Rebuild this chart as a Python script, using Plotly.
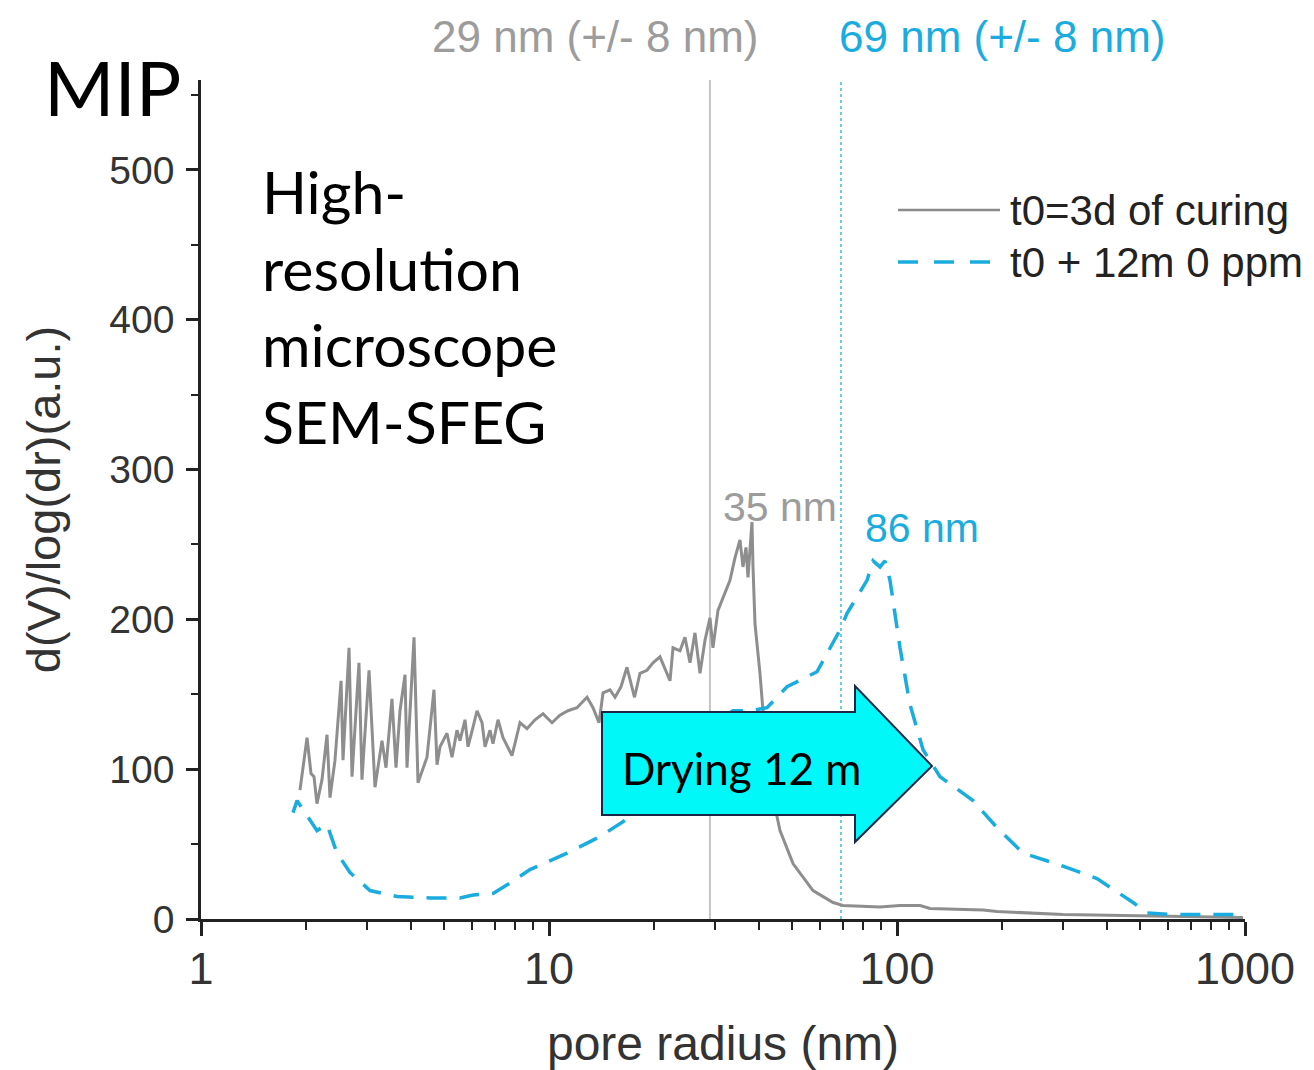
import plotly.graph_objects as go

# ---------------- data ----------------
# t0 = 3 days of curing (grey, solid)
t0_radius = [1.925, 1.990, 2.017, 2.071, 2.112, 2.154, 2.227, 2.302, 2.348, 2.427,
             2.526, 2.559, 2.663, 2.716, 2.844, 2.901, 3.040, 3.162, 3.312, 3.401,
             3.538, 3.634, 3.731, 3.857, 3.908, 4.094, 4.203, 4.461, 4.672, 4.767,
             4.862, 5.092, 5.264, 5.440, 5.550, 5.737, 5.852, 6.049, 6.211, 6.420,
             6.549, 6.769, 6.904, 7.136, 7.376, 7.829, 8.254, 8.645, 9.116, 9.612,
             10.20, 10.75, 11.34, 12.03, 12.86, 13.38, 13.92, 14.30, 14.97, 15.48,
             16.10, 16.75, 17.61, 18.26, 19.12, 19.90, 20.84, 22.27, 22.72, 23.79,
             24.59, 25.42, 26.27, 27.16, 28.07, 29.01, 29.59, 30.59, 32.04, 33.12,
             34.23, 35.38, 36.09, 36.82, 37.31, 38.31, 38.57, 39.08, 40.39, 41.20,
             44.02, 46.11, 50.25, 57.37, 65.50, 69.96, 89.37, 102.0, 116.5, 124.4,
             176.6, 193.8, 299.9, 522.8, 986.9]
t0_value = [86, 109, 121, 97, 95, 77, 93, 123, 81, 106,
            159, 106, 181, 95, 171, 93, 166, 88, 119, 101,
            147, 101, 139, 163, 101, 188, 91, 108, 153, 103,
            115, 124, 108, 126, 119, 133, 115, 128, 139, 131,
            115, 126, 117, 133, 121, 109, 131, 127, 133, 137,
            131, 136, 139, 141, 148, 141, 131, 151, 153, 148,
            155, 168, 148, 164, 166, 171, 175, 159, 181, 179,
            188, 171, 191, 164, 186, 201, 181, 206, 217, 226,
            241, 253, 235, 248, 228, 265, 235, 197, 164, 139,
            81, 59, 37, 19, 11, 9, 8, 9, 9, 7,
            6, 5, 3, 2, 1]

# t0 + 12 months, 0 ppm (cyan, dashed)
t12_radius = [1.838, 1.888, 1.990, 2.154, 2.302, 2.459, 2.681, 3.059, 3.659, 4.550,
              5.550, 6.049, 6.904, 7.727, 8.817, 11.27, 14.02, 17.09, 23.79, 29.01,
              33.79, 37.82, 42.31, 48.30, 58.90, 68.60, 71.85, 82.00, 85.32, 89.37,
              92.36, 95.48, 102.0, 109.0, 118.8, 132.9, 165.4, 193.8, 230.2, 294.0,
              375.6, 476.7, 522.8, 608.9, 986.9]
t12_value = [71, 79, 71, 59, 63, 44, 31, 19, 15, 14,
             14, 16, 17, 24, 33, 44, 55, 68, 106, 129,
             139, 139, 141, 155, 165, 193, 204, 226, 239, 235,
             239, 226, 181, 143, 113, 95, 79, 61, 44, 36,
             27, 11, 4, 3, 3]

mean_t0 = 29      # nm, vertical reference line
mean_t12 = 69     # nm, vertical reference line
y_range = [0, 560]

series_names = ["t0=3d of curing", "t0 + 12m 0 ppm"]

GREY = "#8e8e8e"
CYAN = "#1bacdf"
FONT = "Liberation Sans, Arial, Helvetica, sans-serif"
CAL = "Lato, Carlito, Calibri, sans-serif"

# plot area in page pixels (page has an 8px body margin)
OFF = 8
L, R, T, B = 201, 1245, 80, 919
W, H = 1314 - OFF, 1070 - OFF
def px(xp):
    return (xp - L) / (R - L)
def py(yp):
    return (B - yp) / (B - T)

fig = go.Figure()

# vertical reference lines (through data coordinates)
fig.add_trace(go.Scatter(x=[mean_t0, mean_t0], y=y_range, mode="lines",
                         line=dict(color="#c4c4c4", width=2), showlegend=False,
                         hoverinfo="skip"))
fig.add_trace(go.Scatter(x=[mean_t12, mean_t12], y=y_range, mode="lines",
                         line=dict(color="#6cc8e8", width=2, dash="dot"),
                         showlegend=False, hoverinfo="skip"))

fig.add_trace(go.Scatter(x=t0_radius, y=t0_value, mode="lines", name=series_names[0],
                         line=dict(color=GREY, width=3), showlegend=False))
fig.add_trace(go.Scatter(x=t12_radius, y=t12_value, mode="lines", name=series_names[1],
                         line=dict(color=CYAN, width=3.5, dash="20px,13px"),
                         showlegend=False))

shapes = []
# arrow
pts = [(602, 712), (855, 712), (855, 686), (932, 766), (855, 842), (855, 815), (602, 815)]
path = "M " + " L ".join(f"{px(a):.5f},{py(b):.5f}" for a, b in pts) + " Z"
shapes.append(dict(type="path", xref="paper", yref="paper", path=path,
                   fillcolor="#00f8f8", line=dict(color="#1c2747", width=2), layer="above"))
# legend samples
shapes.append(dict(type="line", xref="paper", yref="paper", x0=px(898), x1=px(1000),
                   y0=py(210), y1=py(210), line=dict(color="#8a8a8a", width=2.5)))
shapes.append(dict(type="line", xref="paper", yref="paper", x0=px(898), x1=px(1000),
                   y0=py(262), y1=py(262), line=dict(color=CYAN, width=3.5, dash="20px,16px")))

ann = []
def add_text(text, x, y, size, color, family=FONT, xanchor="center", align="center"):
    ann.append(dict(text=text, xref="paper", yref="paper", x=px(x), y=py(y),
                    xanchor=xanchor, yanchor="middle", showarrow=False, align=align,
                    font=dict(size=size, color=color, family=family)))

add_text("29 nm (+/- 8 nm)", 595, 37, 44, "#9c9c9c")
add_text("69 nm (+/- 8 nm)", 1002, 37, 44, CYAN)
add_text("35 nm", 780, 507, 41, "#9c9c9c")
add_text("86 nm", 922, 528, 41, CYAN)
add_text(series_names[0], 1008, 210, 42, "#222222", xanchor="left", align="left")
add_text(series_names[1], 1008, 262, 42, "#222222", xanchor="left", align="left")
add_text("MIP", 42, 86, 76, "#000000", family=CAL, xanchor="left", align="left")
add_text("High-<br>resolution<br>microscope<br>SEM-SFEG", 260, 306, 59, "#000000",
         family=CAL, xanchor="left", align="left")
add_text("Drying 12 m", 741, 768, 44, "#000000", family=CAL)

fig.update_layout(
    width=W, height=H,
    margin=dict(l=L - OFF, r=1314 - R, t=T - OFF, b=1070 - B),
    paper_bgcolor="white", plot_bgcolor="white",
    shapes=shapes, annotations=ann, showlegend=False,
    font=dict(family=FONT, color="#333333"),
)
fig.update_xaxes(
    type="log", range=[0, 3], dtick=1, showgrid=False, zeroline=False,
    showline=True, linecolor="#222222", linewidth=2.5,
    ticks="outside", ticklen=14, tickwidth=2.5, tickcolor="#222222",
    tickfont=dict(size=45, color="#333333", family=FONT),
    ticklabelstandoff=-6,
    minor=dict(ticks="outside", ticklen=8, tickwidth=2, tickcolor="#222222", dtick="D1",
               showgrid=False),
    title=dict(text="pore radius (nm)", font=dict(size=48, color="#333333", family=FONT),
               standoff=34),
    automargin=False,
)
fig.update_yaxes(
    range=y_range, dtick=100, tick0=0, showgrid=False, zeroline=False,
    showline=True, linecolor="#222222", linewidth=2.5,
    ticks="outside", ticklen=12, tickwidth=2.5, tickcolor="#222222",
    tickfont=dict(size=39, color="#333333", family=FONT),
    ticklabelstandoff=4,
    minor=dict(ticks="outside", ticklen=7, tickwidth=2, tickcolor="#222222", dtick=50,
               showgrid=False),
    title=dict(text="d(V)/log(dr)(a.u.)", font=dict(size=47, color="#333333", family=FONT),
               standoff=34),
    automargin=False,
)

fig.write_html("out.html")
